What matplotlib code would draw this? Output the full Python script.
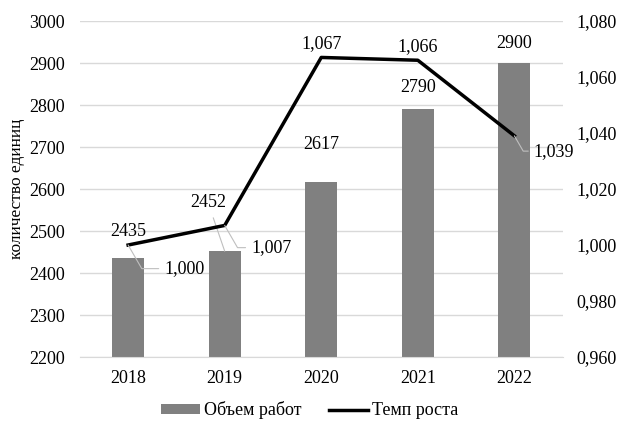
import numpy as np
import matplotlib.pyplot as plt

plt.rcParams['font.family'] = ['Liberation Serif', 'DejaVu Serif']

years = ['2018', '2019', '2020', '2021', '2022']
volume = [2435, 2452, 2617, 2790, 2900]
growth = [1.000, 1.007, 1.067, 1.066, 1.039]

fig = plt.figure(figsize=(6.19, 4.21), dpi=100)
ax = fig.add_axes([0.129, 0.152, 0.780, 0.798])
ax2 = ax.twinx()

x = np.arange(len(years))
bars = ax.bar(x, volume, width=0.33, color='#808080', label='Объем работ', zorder=2)
ax.set_ylim(2200, 3000)
ax.set_yticks(np.arange(2200, 3001, 100))
ax.set_xlim(-0.5, len(years) - 0.5)
ax.set_xticks(x)
ax.set_xticklabels(years)
ax.grid(axis='y', color='#d9d9d9', linewidth=1, zorder=0)
ax.set_axisbelow(True)
for s in ['top', 'right', 'left']:
    ax.spines[s].set_visible(False)
ax.spines['bottom'].set_color('#d9d9d9')
ax.tick_params(axis='y', length=0, labelsize=13, pad=11)
ax.tick_params(axis='x', length=0, labelsize=13, pad=9)
ax.set_ylabel('количество единиц', fontsize=12.5, labelpad=3)

leader = dict(arrowstyle='-', color='#bfbfbf', lw=0.8, shrinkA=3, shrinkB=0)

# подписи столбцов (смещение в пунктах)
bar_off = [(0, 19), (-12, 35), (0, 27), (0, 16), (0, 14)]
for xi, v, off in zip(x, volume, bar_off):
    ax.annotate(str(v), (xi, v), xytext=off, textcoords='offset points',
                ha='center', va='center', fontsize=13,
                arrowprops=leader if off[0] != 0 else None)

line, = ax2.plot(x, growth, color='black', linewidth=2.5, label='Темп роста', zorder=3)
ax2.set_ylim(0.960, 1.080)
ticks2 = np.arange(0.960, 1.0801, 0.020)
ax2.set_yticks(ticks2)
ax2.set_yticklabels([f'{t:.3f}'.replace('.', ',') for t in ticks2])
for s in ['top', 'right', 'left', 'bottom']:
    ax2.spines[s].set_visible(False)
ax2.tick_params(length=0, labelsize=13, pad=10)

lbl = lambda g: f'{g:.3f}'.replace('.', ',')
offsets = [(26, -17), (19, -16), (0, 10), (0, 10), (14, -11)]
for xi, g, off in zip(x, growth, offsets):
    if off[1] > 0:
        ax2.annotate(lbl(g), (xi, g), xytext=off, textcoords='offset points',
                     ha='center', va='center', fontsize=13)
    else:
        ax2.annotate(lbl(g), (xi, g), xytext=off, textcoords='offset points',
                     ha='left', va='center', fontsize=13,
                     arrowprops=dict(leader, shrinkA=2,
                                     connectionstyle='angle,angleA=0,angleB=-60,rad=0'))

handles = [bars, line]
fig.legend(handles, [h.get_label() for h in handles], loc='lower center',
           bbox_to_anchor=(0.5, -0.035), ncol=2, frameon=False, fontsize=13,
           handlelength=2.2, handleheight=0.5, handletextpad=0.2, columnspacing=1.5)

fig.savefig('out.png', dpi=100)
